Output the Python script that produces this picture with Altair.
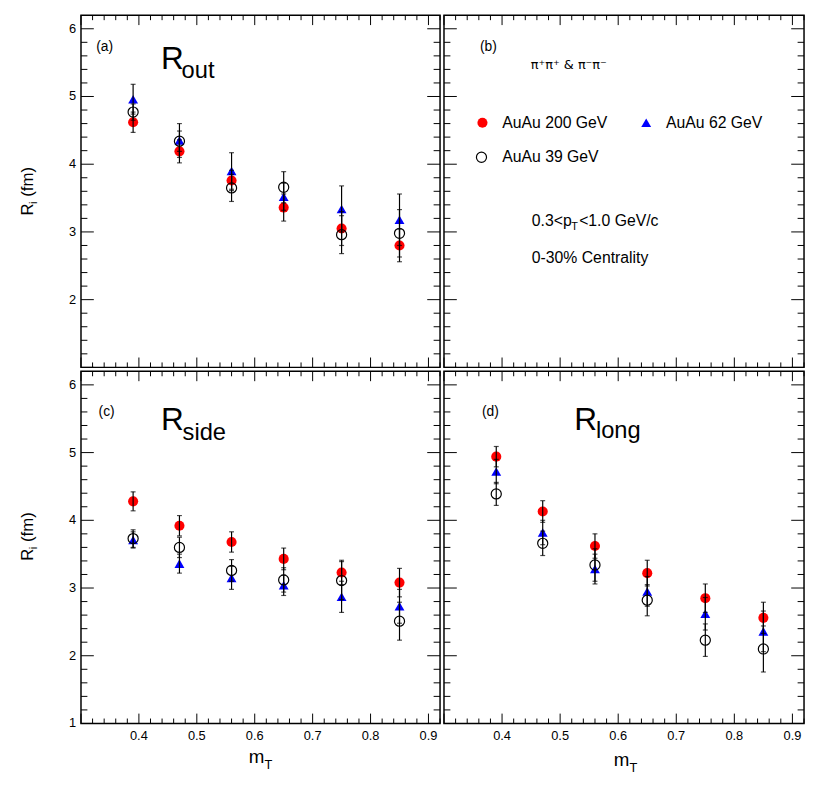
import altair as alt
import pandas as pd

# ---------------- data ----------------
mT = [0.39, 0.47, 0.56, 0.65, 0.75, 0.85]

out_200 = [4.62, 4.19, 3.76, 3.36, 3.05, 2.80]
out_200_err = [0.15, 0.17, 0.15, 0.20, 0.25, 0.24]
out_62 = [4.96, 4.35, 3.90, 3.52, 3.34, 3.18]
out_62_err = [0.22, 0.25, 0.27, 0.20, 0.34, 0.38]
out_39 = [4.77, 4.34, 3.65, 3.66, 2.96, 2.98]
out_39_err = [0.12, 0.15, 0.20, 0.23, 0.28, 0.35]

side_200 = [4.28, 3.92, 3.68, 3.43, 3.23, 3.08]
side_200_err = [0.14, 0.15, 0.15, 0.16, 0.18, 0.21]
side_62 = [3.71, 3.36, 3.15, 3.04, 2.87, 2.73]
side_62_err = [0.12, 0.14, 0.17, 0.15, 0.23, 0.25]
side_39 = [3.73, 3.60, 3.26, 3.12, 3.11, 2.51]
side_39_err = [0.13, 0.15, 0.16, 0.18, 0.28, 0.28]

long_200 = [4.94, 4.13, 3.62, 3.22, 2.85, 2.56]
long_200_err = [0.15, 0.16, 0.18, 0.19, 0.21, 0.23]
long_62 = [4.72, 3.82, 3.28, 2.95, 2.62, 2.36]
long_62_err = [0.18, 0.18, 0.22, 0.22, 0.24, 0.30]
long_39 = [4.39, 3.66, 3.34, 2.82, 2.23, 2.10]
long_39_err = [0.17, 0.18, 0.24, 0.23, 0.24, 0.34]

series_labels = ["AuAu 200 GeV", "AuAu 62 GeV", "AuAu 39 GeV"]

x_domain = [0.3, 0.92]
y_domain = [1.0, 6.2]
x_labels = [0.4, 0.5, 0.6, 0.7, 0.8, 0.9]
x_major = [0.3, 0.4, 0.5, 0.6, 0.7, 0.8, 0.9]
x_minor = [round(0.3 + 0.02 * i, 2) for i in range(1, 32) if i % 5 != 0]
y_major = [1, 2, 3, 4, 5, 6]
y_minor = [round(1 + 0.2 * i, 1) for i in range(1, 26) if i % 5 != 0]
y_labels_top = [2, 3, 4, 5, 6]
y_labels_bottom = [1, 2, 3, 4, 5, 6]

FONT = "Liberation Sans"
WL, WR = 364, 365
HT, HB = 357, 357

xs = alt.Scale(domain=x_domain, nice=False, zero=False)
ys = alt.Scale(domain=y_domain, nice=False, zero=False)


def series_df(v, e):
    return pd.DataFrame({
        "mT": mT,
        "R": v,
        "lo": [a - b for a, b in zip(v, e)],
        "hi": [a + b for a, b in zip(v, e)],
    })


def txt(s, x, y, size, align="left", baseline="alphabetic", angle=0, font=FONT):
    return alt.Chart(pd.DataFrame({"s": [s]})).mark_text(
        align=align, baseline=baseline, angle=angle, font=font,
        fontSize=size, color="black"
    ).encode(text="s:N", x=alt.value(x), y=alt.value(y))


def y_tick_labels(values):
    df = pd.DataFrame({"v": values})
    return alt.Chart(df).mark_text(align="right", baseline="middle", font=FONT,
                                   fontSize=13, color="black").encode(
        y=alt.Y("v:Q", scale=ys, axis=None), x=alt.value(-5),
        text=alt.Text("v:Q", format="d"))


def x_tick_labels(H):
    df = pd.DataFrame({"v": x_labels})
    return alt.Chart(df).mark_text(align="center", baseline="top", font=FONT,
                                   fontSize=13, color="black").encode(
        x=alt.X("v:Q", scale=xs, axis=None), y=alt.value(H + 7),
        text=alt.Text("v:Q", format=".1f"))


def tick_layers(W, H):
    L = []
    for vals, ln in ((y_major, 13), (y_minor, 6.5)):
        df = pd.DataFrame({"t": vals})
        Y = alt.Y("t:Q", scale=ys, axis=None)
        L.append(alt.Chart(df).mark_rule(color="black", strokeWidth=1)
                 .encode(y=Y, x=alt.value(0), x2=alt.value(ln)))
        L.append(alt.Chart(df).mark_rule(color="black", strokeWidth=1)
                 .encode(y=Y, x=alt.value(W - ln), x2=alt.value(W)))
    for vals, ln in ((x_major, 10), (x_minor, 5)):
        df = pd.DataFrame({"t": vals})
        X = alt.X("t:Q", scale=xs, axis=None)
        L.append(alt.Chart(df).mark_rule(color="black", strokeWidth=1)
                 .encode(x=X, y=alt.value(H - ln), y2=alt.value(H)))
        L.append(alt.Chart(df).mark_rule(color="black", strokeWidth=1)
                 .encode(x=X, y=alt.value(0), y2=alt.value(ln)))
    return L


RED = dict(shape="circle", filled=True, color="#ff0000", size=105, opacity=1, strokeWidth=0)
BLUE = dict(shape="triangle-up", filled=True, color="#0000ff", size=100, opacity=1, strokeWidth=0)
OPEN = dict(shape="circle", filled=False, color="black", size=105, opacity=1, strokeWidth=1.2)


def data_layers(s200, s62, s39):
    d200, d62, d39 = series_df(*s200), series_df(*s62), series_df(*s39)
    X = alt.X("mT:Q", scale=xs, axis=None)
    L = []
    for df, style in ((d200, RED), (d62, BLUE)):
        L.append(alt.Chart(df).mark_point(**style).encode(
            x=X, y=alt.Y("R:Q", scale=ys, axis=None)))
    for df in (d200, d62, d39):
        L.append(alt.Chart(df).mark_rule(color="black", strokeWidth=1.2).encode(
            x=X, y=alt.Y("lo:Q", scale=ys, axis=None), y2="hi:Q"))
        for f in ("lo", "hi"):
            L.append(alt.Chart(df).mark_tick(orient="horizontal", size=5, thickness=1.2,
                                             color="black").encode(
                x=X, y=alt.Y(f + ":Q", scale=ys, axis=None)))
    L.append(alt.Chart(d39).mark_point(**OPEN).encode(
        x=X, y=alt.Y("R:Q", scale=ys, axis=None)))
    return L


def big_title(main, sub, x, y, sub_dx, sub_dy):
    return [txt(main, x, y, 32), txt(sub, x + sub_dx, y + sub_dy, 24)]


def ytitle(y0):
    return [txt("R", -49, y0, 17, angle=270),
            txt("i", -45, y0 - 11.5, 12, angle=270),
            txt("(fm)", -49, y0 - 19, 17, angle=270)]


def mtitle(x0, H, dy):
    return [txt("m", x0, H + dy, 19), txt("T", x0 + 16, H + dy + 6, 13)]


# ---------------- panel (a) ----------------
pa = alt.layer(
    *data_layers((out_200, out_200_err), (out_62, out_62_err), (out_39, out_39_err)),
    *tick_layers(WL, HT),
    y_tick_labels(y_labels_top),
    txt("(a)", 24, 36, 14, align="center"),
    *big_title("R", "out", 81, 55, 21, 9),
    *ytitle(203),
).properties(width=WL, height=HT)

# ---------------- panel (b): legend / notes ----------------
leg_pts = [
    alt.Chart(pd.DataFrame({"s": [series_labels[0]]})).mark_point(**RED)
    .encode(x=alt.value(39), y=alt.value(109)),
    alt.Chart(pd.DataFrame({"s": [series_labels[1]]})).mark_point(**BLUE)
    .encode(x=alt.value(205), y=alt.value(109)),
    alt.Chart(pd.DataFrame({"s": [series_labels[2]]})).mark_point(**OPEN)
    .encode(x=alt.value(38), y=alt.value(144)),
]
pb = alt.layer(
    *tick_layers(WR, HT),
    txt("(b)", 45, 36, 14, align="center"),
    txt("π⁺π⁺ & π⁻π⁻", 88, 51, 13, baseline="middle", font="DejaVu Sans"),
    *leg_pts,
    txt(series_labels[0], 59, 109, 16, baseline="middle"),
    txt(series_labels[1], 225, 109, 16, baseline="middle"),
    txt(series_labels[2], 59, 144, 16, baseline="middle"),
    txt("0.3<p", 89, 209, 16, baseline="middle"),
    txt("T", 129, 215, 11, baseline="middle"),
    txt("<1.0 GeV/c", 137, 209, 16, baseline="middle"),
    txt("0-30% Centrality", 89, 246, 16, baseline="middle"),
).properties(width=WR, height=HT)

# ---------------- panel (c) ----------------
pc = alt.layer(
    *data_layers((side_200, side_200_err), (side_62, side_62_err), (side_39, side_39_err)),
    *tick_layers(WL, HB),
    y_tick_labels(y_labels_bottom),
    x_tick_labels(HB),
    txt("(c)", 26, 45, 14, align="center"),
    *big_title("R", "side", 81, 59, 22, 11),
    *ytitle(192),
    *mtitle(170, HB, 40),
).properties(width=WL, height=HB)

# ---------------- panel (d) ----------------
pdd = alt.layer(
    *data_layers((long_200, long_200_err), (long_62, long_62_err), (long_39, long_39_err)),
    *tick_layers(WR, HB),
    x_tick_labels(HB),
    txt("(d)", 47, 45, 14, align="center"),
    *big_title("R", "long", 132, 59, 22, 9),
    *mtitle(172, HB, 43),
).properties(width=WR, height=HB)

top = alt.hconcat(pa, pb, spacing=0)
bottom = alt.hconcat(pc, pdd, spacing=0)
chart = alt.vconcat(top, bottom, spacing=0).properties(
    padding={"left": 10, "top": 0, "right": 0, "bottom": 0},
    background="white",
).configure_view(stroke="black", strokeWidth=1.5, fill="white")

chart.save("out.html", embed_options={"renderer": "svg", "actions": False})
